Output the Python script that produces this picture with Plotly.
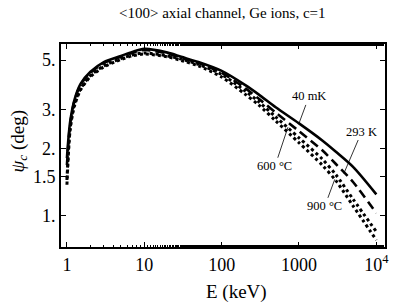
import numpy as np
import plotly.graph_objects as go

# Energy grid (keV)
energy = [1, 1.1, 1.25, 1.5, 2, 3, 5, 7, 10, 20, 30, 50, 100, 200, 300, 500, 1000, 2000, 3000, 5000, 10000]

# critical angle psi_c (deg) for each temperature
psi_40mK = [1.82, 2.64, 3.31, 3.91, 4.42, 4.90, 5.22, 5.44, 5.61, 5.40, 5.17, 4.90, 4.47, 3.87, 3.51, 3.07, 2.60, 2.18, 1.94, 1.66, 1.25]
psi_293K = [1.69, 2.58, 3.28, 3.87, 4.37, 4.85, 5.17, 5.38, 5.55, 5.35, 5.12, 4.85, 4.38, 3.75, 3.36, 2.91, 2.40, 1.97, 1.71, 1.42, 1.03]
psi_600C = [1.45, 2.48, 3.18, 3.71, 4.25, 4.71, 5.08, 5.27, 5.38, 5.22, 5.05, 4.78, 4.31, 3.64, 3.26, 2.78, 2.24, 1.80, 1.53, 1.19, 0.85]
psi_900C = [1.38, 2.43, 3.11, 3.67, 4.20, 4.66, 5.03, 5.22, 5.32, 5.17, 4.98, 4.71, 4.20, 3.52, 3.15, 2.67, 2.13, 1.69, 1.44, 1.11, 0.78]

x_tickvals = [1, 10, 100, 1000, 10000]
x_ticktext = ["1", "10", "100", "1000", "10<sup>4</sup>"]
y_tickvals = [1, 1.5, 2, 3, 5]
y_ticktext = ["1.", "1.5", "2.", "3.", "5."]

title_text = "&lt;100&gt; axial channel, Ge ions, c=1"
# label text, energy of leader end, psi of leader end, text offset (px)
labels = [
    ("40 mK", 1000, 2.60, 10, -27),
    ("293 K", 3800, 1.55, 18, -42),
    ("600 °C", 720, 2.50, -13, 39),
    ("900 °C", 2900, 1.46, -10, 27),
]

FONT = "Liberation Serif, Times New Roman, serif"

fig = go.Figure()
series = [
    (psi_40mK, "solid", 2.6),
    (psi_293K, "9px,5px", 2.6),
    (psi_600C, "dot", 3.0),
    (psi_900C, "dot", 3.0),
]
for ys, dash, w in series:
    fig.add_trace(go.Scatter(x=energy, y=ys, mode="lines",
                             line=dict(color="black", width=w, dash=dash, shape="spline", smoothing=0.8),
                             showlegend=False, hoverinfo="skip"))

for text, ex, py, ax, ay in labels:
    fig.add_annotation(x=np.log10(ex), y=np.log10(py), text=text, showarrow=True,
                       arrowhead=0, arrowwidth=0.8, arrowcolor="black",
                       ax=ax, ay=ay, standoff=0,
                       font=dict(family=FONT, size=12.5, color="black"))

fig.add_annotation(xref="paper", yref="paper", x=0.5, y=1, yshift=31, xshift=-1,
                   text=title_text, showarrow=False, yanchor="middle",
                   font=dict(family=FONT, size=15, color="black"))
fig.add_annotation(xref="paper", yref="paper", x=0.5, y=0, yshift=-45, xshift=13,
                   text="E (keV)", showarrow=False, yanchor="middle",
                   font=dict(family=FONT, size=19, color="black"))
fig.add_annotation(xref="paper", yref="paper", x=0, y=0.5, xshift=-43, yshift=4,
                   text="<i>ψ<sub>c</sub></i> (deg)", showarrow=False, textangle=-90,
                   xanchor="center", yanchor="middle",
                   font=dict(family=FONT, size=19, color="black"))

axis_common = dict(showline=True, linecolor="black", linewidth=1.8, mirror="allticks",
                   ticks="inside", ticklen=5, tickcolor="black", tickwidth=1,
                   showgrid=False, zeroline=False,
                   tickfont=dict(family=FONT, size=18, color="black"))

fig.update_xaxes(type="log", range=[-0.0766, 4.112], tickvals=x_tickvals, ticktext=x_ticktext,
                 minor=dict(ticks="inside", ticklen=2.5, tickcolor="black", showgrid=False),
                 **axis_common)
fig.update_yaxes(type="log", range=[-0.139, 0.771], tickvals=y_tickvals, ticktext=y_ticktext,
                 **axis_common)

fig.update_layout(width=396, height=307, margin=dict(l=61, r=7, t=44, b=60),
                  plot_bgcolor="white", paper_bgcolor="white",
                  font=dict(family=FONT, color="black"))

fig.write_html("out.html", config={"displayModeBar": False},
               post_script="document.body.style.margin='0';document.body.style.padding='0';"
                           "document.body.style.overflow='hidden';")
